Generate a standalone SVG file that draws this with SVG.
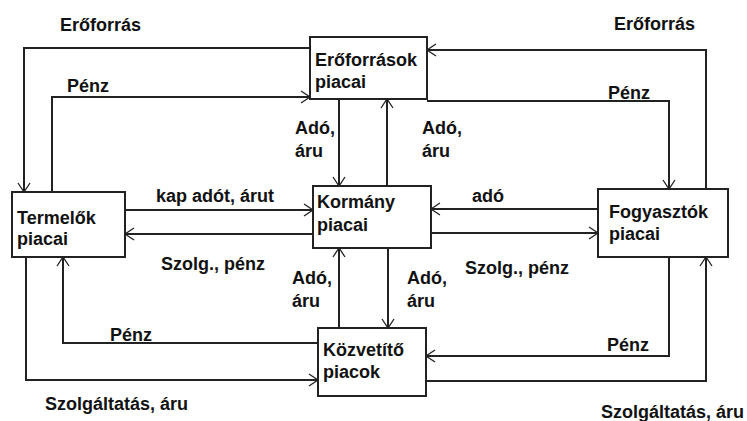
<svg xmlns="http://www.w3.org/2000/svg" width="747" height="421" viewBox="0 0 747 421">
<defs>
<marker id="arr" markerUnits="userSpaceOnUse" markerWidth="14" markerHeight="14" refX="11" refY="7" orient="auto">
<path d="M2,1 L11,7 L2,13" fill="none" stroke="#222" stroke-width="1.3"/>
</marker>
<style>
.box{fill:#fff;stroke:#222;stroke-width:2}
.c{fill:none;stroke:#222;stroke-width:2;marker-end:url(#arr)}
text{font-family:"Liberation Sans",Arial,sans-serif;font-weight:bold;font-size:18px;fill:#111}
</style>
</defs>
<rect width="747" height="421" fill="#fff"/>
<g id="connectors">
<path class="c" d="M310,48 H24 V192"/>
<path class="c" d="M52,192 V97 H310"/>
<path class="c" d="M706,189 V50 H427"/>
<path class="c" d="M427,101 H669 V189"/>
<path class="c" d="M339,99 V186"/>
<path class="c" d="M387,186 V99"/>
<path class="c" d="M125,210 H313"/>
<path class="c" d="M313,234 H125"/>
<path class="c" d="M598,209 H431"/>
<path class="c" d="M431,233 H598"/>
<path class="c" d="M339,328 V248"/>
<path class="c" d="M388,248 V328"/>
<path class="c" d="M318,343 H63 V257"/>
<path class="c" d="M26,257 V380 H318"/>
<path class="c" d="M669,257 V356 H426"/>
<path class="c" d="M426,381 H706 V257"/>
</g>
<g id="labels">
<text x="60" y="31">Erőforrás</text>
<text x="67" y="92">Pénz</text>
<text x="614" y="30">Erőforrás</text>
<text x="608" y="99">Pénz</text>
<text x="295" y="134">Adó,</text>
<text x="295" y="157">áru</text>
<text x="422" y="134">Adó,</text>
<text x="422" y="157">áru</text>
<text x="156" y="202">kap adót, árut</text>
<text x="161" y="270">Szolg., pénz</text>
<text x="472" y="202">adó</text>
<text x="465" y="274">Szolg., pénz</text>
<text x="292" y="284">Adó,</text>
<text x="292" y="307">áru</text>
<text x="407" y="284">Adó,</text>
<text x="407" y="307">áru</text>
<text x="110" y="341">Pénz</text>
<text x="45" y="410">Szolgáltatás, áru</text>
<text x="607" y="351">Pénz</text>
<text x="601" y="418">Szolgáltatás, áru</text>
</g>
<g id="eroforrasok">
<rect class="box" x="310" y="37" width="117" height="62"/>
<text x="315" y="66">Erőforrások</text>
<text x="315" y="88">piacai</text>
</g>
<g id="termelok">
<rect class="box" x="12" y="192" width="113" height="65"/>
<text x="17" y="224">Termelők</text>
<text x="17" y="245">piacai</text>
</g>
<g id="kormany">
<rect class="box" x="313" y="186" width="118" height="62"/>
<text x="317" y="208">Kormány</text>
<text x="317" y="231">piacai</text>
</g>
<g id="fogyasztok">
<rect class="box" x="598" y="189" width="130" height="68"/>
<text x="609" y="218">Fogyasztók</text>
<text x="609" y="240">piacai</text>
</g>
<g id="kozvetito">
<rect class="box" x="318" y="328" width="108" height="68"/>
<text x="323" y="356">Közvetítő</text>
<text x="323" y="378">piacok</text>
</g>
</svg>
